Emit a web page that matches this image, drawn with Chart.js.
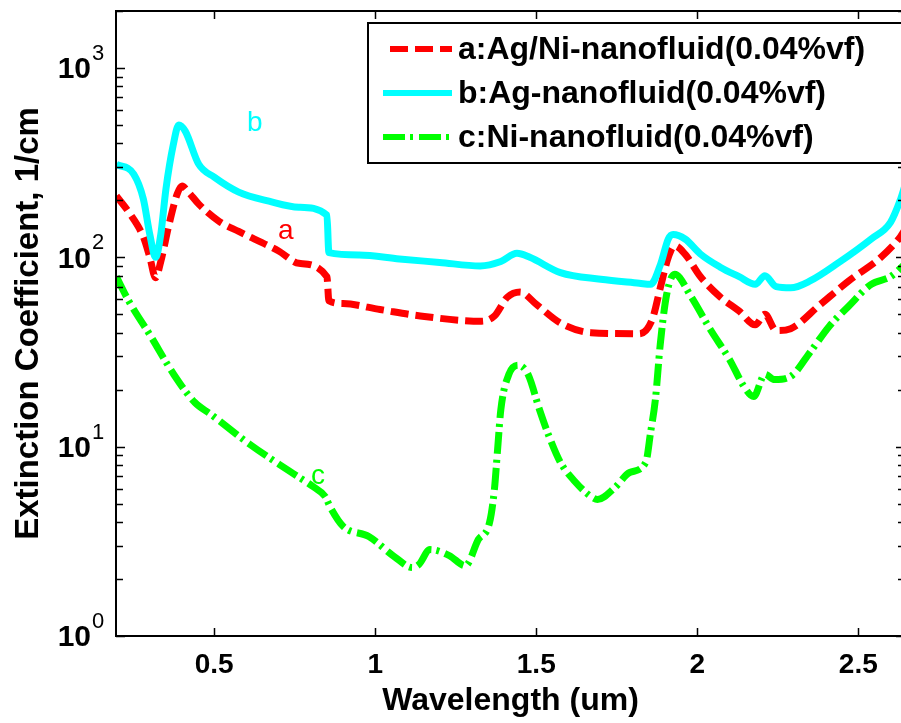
<!DOCTYPE html>
<html>
<head>
<meta charset="utf-8">
<script src="https://cdn.jsdelivr.net/npm/chart.js@4.4.1/dist/chart.umd.min.js"></script>
<style>
  body { margin: 0; overflow: hidden; background: #fff; }
</style>
</head>
<body>
<canvas id="extChart" width="915" height="723"></canvas>
<script>
// series names
const seriesNames = [
  "a:Ag/Ni-nanofluid(0.04%vf)",
  "b:Ag-nanofluid(0.04%vf)",
  "c:Ni-nanofluid(0.04%vf)",
];

// a: Ag/Ni
const waveA = [0.196, 0.235, 0.28, 0.3, 0.318, 0.334, 0.36, 0.385, 0.4, 0.42, 0.452, 0.515, 0.576, 0.7, 0.763, 0.85, 0.856,
  0.9, 1.015, 1.14, 1.33, 1.37, 1.41, 1.45, 1.5, 1.575, 1.67, 1.82, 1.86, 1.886, 1.91, 1.93, 1.962, 2.01, 2.07, 2.13,
  2.18, 2.21, 2.245, 2.29, 2.38, 2.47, 2.57, 2.63, 2.645];
const extA = [211, 173, 128, 100, 78, 95, 150, 216, 238, 221, 191, 155, 137, 108, 93, 79, 59,
  57, 53, 49, 46, 49, 61.5, 65.5, 56.5, 45, 40, 39.5, 47, 70, 100, 115, 104, 79, 62, 52,
  44, 50, 41, 42, 56, 75, 100, 128, 140];

// b: Ag
const waveB = [0.196, 0.25, 0.28, 0.3, 0.318, 0.334, 0.35, 0.373, 0.39, 0.41, 0.452, 0.5, 0.576, 0.67, 0.763, 0.85, 0.856,
  0.95, 1.075, 1.2, 1.326, 1.39, 1.44, 1.48, 1.575, 1.7, 1.82, 1.855, 1.886, 1.91, 1.925, 1.962, 2.01, 2.07, 2.13,
  2.18, 2.21, 2.245, 2.29, 2.35, 2.44, 2.54, 2.6, 2.63, 2.645];
const extB = [310, 275, 203, 132, 100, 132, 229, 394, 500, 464, 310, 265, 221, 198, 184, 167, 106,
  103, 98, 94, 90, 95, 105, 100, 83, 76.6, 73, 72, 92, 125, 132, 125, 104, 89, 79,
  72, 80, 70, 69, 75, 94, 125, 153, 200, 240];

// c: Ni
const waveC = [0.196, 0.235, 0.3, 0.375, 0.44, 0.49, 0.61, 0.735, 0.81, 0.845, 0.86, 0.9, 0.98, 1.06, 1.115, 1.135,
  1.17, 1.23, 1.28, 1.32, 1.355, 1.37, 1.38, 1.39, 1.415, 1.445, 1.475, 1.51, 1.54, 1.575, 1.62, 1.67, 1.69, 1.745,
  1.79, 1.84, 1.855, 1.87, 1.885, 1.905, 1.93, 1.98, 2.04, 2.1, 2.145, 2.175, 2.21, 2.24, 2.29, 2.35, 2.41, 2.47,
  2.54, 2.6, 2.645];
const extC = [79, 58.6, 39, 24, 17.1, 14.8, 10.3, 7.4, 6.1, 5.45, 4.8, 3.8, 3.35, 2.62, 2.3, 2.38,
  2.86, 2.66, 2.35, 3.23, 3.98, 5.94, 9.7, 15.7, 24.1, 26.9, 24, 15.7, 11.3, 8.26, 6.55, 5.45, 5.26, 6.1,
  7.3, 8.26, 11.9, 17.8, 34.7, 63.8, 81.5, 62.3, 41.7, 28.9, 20.8, 18.4, 24.1, 22.6, 23.5, 31.5, 43.3, 55.2,
  72, 79, 92];

// axis ticks
const xTicks = [0.5, 1, 1.5, 2, 2.5];
const xTickLabels = ["0.5", "1", "1.5", "2", "2.5"];
const yTickExps = [0, 1, 2, 3];

// curve letters (data coords)
const curveTags = [
  { text: "a", x: 0.722, y: 138, series: 0 },
  { text: "b", x: 0.626, y: 512, series: 1 },
  { text: "c", x: 0.822, y: 6.95, series: 2 },
];

const FONT = "'Liberation Sans', Arial, Helvetica, sans-serif";
const colors = ["#ff0000", "#00ffff", "#00ff00"];
const dashes = [[18, 7], [], [22, 5, 3, 6]];

function toPts(xs, ys) {
  return xs.map((x, i) => ({ x: x, y: ys[i] }));
}

const boxPlugin = {
  id: "boxPlugin",
  beforeDraw(chart) {
    const ctx = chart.ctx;
    ctx.save();
    ctx.fillStyle = "#fff";
    ctx.fillRect(0, 0, chart.width, chart.height);
    ctx.restore();
  },
  afterDraw(chart) {
    const ctx = chart.ctx;
    const a = chart.chartArea;
    const xs = chart.scales.x;
    const ys = chart.scales.y;
    ctx.save();

    // curve letters
    ctx.font = "normal 28px " + FONT;
    ctx.textAlign = "center";
    ctx.textBaseline = "middle";
    curveTags.forEach((t) => {
      ctx.fillStyle = colors[t.series];
      ctx.fillText(t.text, xs.getPixelForValue(t.x), ys.getPixelForValue(t.y));
    });

    // frame
    ctx.strokeStyle = "#000";
    ctx.lineWidth = 2;
    ctx.strokeRect(a.left, a.top, a.right - a.left, a.bottom - a.top);

    // inward ticks
    ctx.lineWidth = 1.5;
    ctx.beginPath();
    xTicks.forEach((v) => {
      const px = Math.round(xs.getPixelForValue(v)) + 0.5;
      ctx.moveTo(px, a.bottom);
      ctx.lineTo(px, a.bottom - 8);
      ctx.moveTo(px, a.top);
      ctx.lineTo(px, a.top + 8);
    });
    yTickExps.forEach((e) => {
      for (let m = 1; m <= 9; m++) {
        const v = m * Math.pow(10, e);
        if (v > ys.max) break;
        const py = Math.round(ys.getPixelForValue(v)) + 0.5;
        ctx.moveTo(a.left, py);
        ctx.lineTo(a.left + (m === 1 ? 9 : 7), py);
        ctx.moveTo(a.right, py);
        ctx.lineTo(a.right - (m === 1 ? 9 : 7), py);
      }
    });
    ctx.stroke();

    // y tick labels 10^n
    ctx.fillStyle = "#000";
    yTickExps.forEach((e) => {
      const py = ys.getPixelForValue(Math.pow(10, e));
      ctx.font = "bold 30px " + FONT;
      ctx.textAlign = "right";
      ctx.textBaseline = "middle";
      ctx.fillText("10", 91, py + 2);
      ctx.font = "normal 22px " + FONT;
      ctx.textAlign = "left";
      ctx.textBaseline = "alphabetic";
      ctx.fillText(String(e), 92, py - 8);
    });

    // legend
    const lg = { left: 368, top: 23, right: 904, bottom: 163 };
    ctx.fillStyle = "#fff";
    ctx.fillRect(lg.left, lg.top, lg.right - lg.left, lg.bottom - lg.top);
    ctx.strokeStyle = "#000";
    ctx.lineWidth = 2;
    ctx.strokeRect(lg.left, lg.top, lg.right - lg.left, lg.bottom - lg.top);
    chart.data.datasets.forEach((ds, i) => {
      const cy = 49 + i * 44;
      ctx.save();
      ctx.strokeStyle = ds.borderColor;
      ctx.lineWidth = 6;
      ctx.setLineDash(ds.borderDash || []);
      ctx.lineDashOffset = i === 0 ? 18 : 0;
      ctx.beginPath();
      ctx.moveTo(383, cy);
      ctx.lineTo(452, cy);
      ctx.stroke();
      ctx.restore();
      ctx.fillStyle = "#000";
      ctx.font = "bold 32px " + FONT;
      ctx.textAlign = "left";
      ctx.textBaseline = "middle";
      ctx.fillText(ds.label, 458, cy + 1);
    });
    ctx.restore();
  },
};

const datasets = [
  { label: seriesNames[0], data: toPts(waveA, extA), order: 2 },
  { label: seriesNames[1], data: toPts(waveB, extB), order: 1 },
  { label: seriesNames[2], data: toPts(waveC, extC), order: 0 },
].map((ds, i) => Object.assign(ds, {
  borderColor: colors[i],
  borderWidth: 7,
  borderDash: dashes[i],
  pointRadius: 0,
  fill: false,
  cubicInterpolationMode: "monotone",
}));

new Chart(document.getElementById("extChart"), {
  type: "line",
  data: { datasets: datasets },
  options: {
    responsive: false,
    animation: false,
    layout: { padding: { top: 11, right: 10, left: 0, bottom: 0 } },
    plugins: { legend: { display: false }, tooltip: { enabled: false } },
    scales: {
      x: {
        type: "linear",
        min: 0.195,
        max: 2.645,
        afterBuildTicks: (s) => { s.ticks = xTicks.map((v) => ({ value: v })); },
        afterFit: (s) => { s.height = 87; },
        grid: { display: false, drawTicks: false },
        border: { display: false },
        ticks: {
          callback: (v, i) => xTickLabels[i],
          color: "#000",
          font: { family: FONT, size: 28, weight: "bold" },
          padding: 12,
          maxRotation: 0,
          autoSkip: false,
        },
        title: {
          display: true,
          text: "Wavelength (um)",
          color: "#000",
          font: { family: FONT, size: 32, weight: "bold" },
          padding: { top: 0, bottom: 3 },
        },
      },
      y: {
        type: "logarithmic",
        min: 1,
        max: 2000,
        afterFit: (s) => { s.width = 116; },
        grid: { display: false, drawTicks: false },
        border: { display: false },
        ticks: { display: false },
        title: {
          display: true,
          text: "Extinction Coefficient, 1/cm",
          color: "#000",
          font: { family: FONT, size: 33, weight: "bold" },
          padding: { top: 9, bottom: 0 },
        },
      },
    },
  },
  plugins: [boxPlugin],
});
</script>
</body>
</html>
